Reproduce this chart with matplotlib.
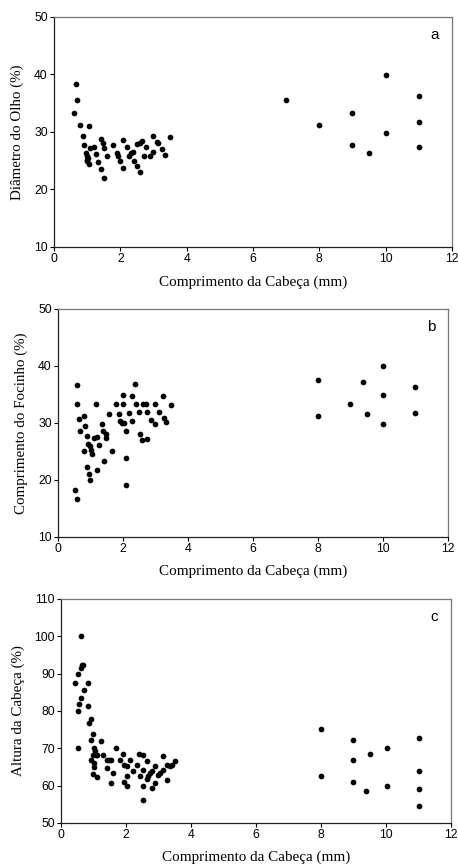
# -*- coding: utf-8 -*-
import numpy as np
import matplotlib.pyplot as plt

# Data (x = comprimento da cabeca, mm)
xa = [0.60, 0.66, 0.70, 0.79, 0.86, 0.91, 0.96, 1.01, 1.00, 1.05, 1.07, 1.09,
      1.03, 0.98, 1.21, 1.27, 1.33, 1.41, 1.43, 1.49, 1.50, 1.51, 1.59, 1.79,
      1.89, 1.92, 1.99, 2.09, 2.09, 2.19, 2.27, 2.33, 2.39, 2.41, 2.50, 2.50,
      2.58, 2.60, 2.64, 2.70, 2.76, 2.88, 3.00, 3.00, 3.10, 3.15, 3.25, 3.34,
      3.49, 6.99, 8.00, 9.00, 9.00, 9.50, 10.00, 10.00, 11.00, 11.00, 11.00]
ya = [33.3, 38.4, 35.6, 31.2, 29.3, 27.7, 26.4, 25.9, 25.1, 24.5, 31.0, 27.2,
      25.5, 24.9, 27.4, 26.2, 24.8, 23.5, 28.8, 28.0, 27.2, 22.0, 25.9, 27.7,
      26.3, 25.9, 25.0, 28.6, 23.8, 27.3, 25.9, 26.3, 26.5, 25.0, 27.9, 24.1,
      28.0, 23.0, 28.5, 25.9, 27.3, 25.9, 29.3, 26.6, 28.3, 28.0, 27.1, 26.0,
      29.2, 35.6, 31.2, 33.3, 27.7, 26.3, 39.9, 29.9, 36.3, 31.8, 27.3]

xb = [0.53, 0.59, 0.59, 0.59, 0.65, 0.69, 0.79, 0.79, 0.84, 0.89, 0.89, 0.93,
      0.94, 0.97, 0.99, 1.02, 1.06, 1.10, 1.18, 1.19, 1.20, 1.25, 1.36, 1.40,
      1.42, 1.49, 1.49, 1.57, 1.66, 1.79, 1.89, 1.92, 1.97, 1.99, 2.00, 2.02,
      2.09, 2.09, 2.09, 2.18, 2.29, 2.29, 2.38, 2.40, 2.49, 2.51, 2.59, 2.62,
      2.70, 2.74, 2.74, 2.86, 2.98, 2.98, 3.11, 3.24, 3.25, 3.33, 3.49,
      8.00, 8.00, 8.98, 9.39, 9.50, 9.99, 9.99, 9.99, 11.00, 11.00]
yb = [18.2, 16.6, 36.6, 33.3, 30.7, 28.6, 31.2, 25.0, 29.4, 27.7, 22.2, 26.4,
      21.1, 26.0, 20.0, 25.2, 24.6, 27.3, 33.3, 21.7, 27.5, 26.2, 29.9, 28.6,
      23.4, 28.0, 27.3, 31.6, 25.1, 33.3, 31.6, 30.3, 30.0, 34.9, 33.4, 30.0,
      28.6, 23.8, 19.1, 31.8, 34.8, 30.4, 36.9, 33.3, 32.0, 28.0, 27.0, 33.4,
      33.3, 31.9, 27.2, 30.6, 33.3, 29.9, 32.0, 34.8, 30.8, 30.1, 33.2,
      37.5, 31.2, 33.3, 37.2, 31.6, 40.0, 34.9, 29.9, 36.4, 31.8]

xc = [0.43, 0.53, 0.53, 0.55, 0.53, 0.62, 0.62, 0.65, 0.68, 0.62, 0.72, 0.82,
      0.82, 0.87, 0.92, 0.91, 0.97, 0.91, 0.97, 0.97, 1.02, 1.02, 1.03, 1.05,
      1.07, 1.10, 1.12, 1.22, 1.30, 1.41, 1.43, 1.47, 1.54, 1.53, 1.59, 1.69,
      1.80, 1.90, 1.94, 1.94, 2.02, 2.02, 2.02, 2.13, 2.23, 2.33, 2.39, 2.43,
      2.53, 2.53, 2.53, 2.53, 2.64, 2.64, 2.69, 2.74, 2.79, 2.79, 2.89, 2.89,
      2.99, 3.05, 3.14, 3.14, 3.25, 3.25, 3.36, 3.41, 3.50,
      8.01, 8.01, 9.00, 9.00, 9.00, 9.40, 9.51, 10.02, 10.02,
      11.03, 11.03, 11.03, 11.03]
yc = [87.5, 89.9, 79.9, 81.8, 70.0, 100.0, 91.6, 92.3, 92.4, 83.5, 85.7, 87.5,
      81.3, 76.7, 77.9, 72.1, 73.8, 66.8, 68.3, 63.1, 70.0, 66.0, 65.1, 69.2,
      68.3, 62.3, 68.3, 71.9, 68.3, 66.8, 64.6, 66.8, 66.8, 60.6, 63.3, 70.0,
      66.8, 68.5, 65.4, 61.1, 65.2, 62.6, 60.0, 66.8, 63.8, 65.4, 68.5, 62.6,
      68.2, 64.2, 60.0, 56.1, 66.5, 61.7, 62.6, 63.3, 63.8, 59.3, 65.3, 60.8,
      62.9, 63.3, 68.0, 64.1, 61.5, 65.6, 65.3, 65.4, 66.7,
      75.1, 62.6, 72.1, 66.8, 61.1, 58.5, 68.5, 70.0, 59.9,
      72.8, 63.8, 59.1, 54.6]

xlabel = "Comprimento da Cabeça (mm)"
ylabels = ["Diâmetro do Olho (%)", "Comprimento do Focinho (%)", "Altura da Cabeça (%)"]
letters = ["a", "b", "c"]
ylims = [(10, 50), (10, 50), (50, 110)]
yticks = [np.arange(10, 51, 10), np.arange(10, 51, 10), np.arange(50, 111, 10)]

# axes boxes in figure fraction (left, bottom, width, height)
boxes = [[0.1179, 0.7145, 0.869, 0.2659],
         [0.1266, 0.3792, 0.8515, 0.2636],
         [0.1332, 0.0486, 0.8515, 0.2590]]
ylab_x = [-0.093, -0.095, -0.11]

fig = plt.figure(figsize=(4.58, 8.65), dpi=100)

for i, (xs, ys) in enumerate([(xa, ya), (xb, yb), (xc, yc)]):
    ax = fig.add_axes(boxes[i])
    ax.scatter(xs, ys, s=17, color="black", linewidths=0, zorder=3)
    ax.set_xlim(0, 12)
    ax.set_ylim(*ylims[i])
    ax.set_xticks(np.arange(0, 13, 2))
    ax.set_yticks(yticks[i])
    ax.tick_params(direction="out", length=3, width=0.8, labelsize=8.8,
                   top=False, right=False, pad=1.5)
    for lab in ax.get_xticklabels() + ax.get_yticklabels():
        lab.set_family("Liberation Sans")
    for sp in ax.spines.values():
        sp.set_linewidth(0.9)
        sp.set_color("#222222")
    ax.spines["right"].set_color("#777777")
    ax.spines["top"].set_color("#777777")
    ax.set_xlabel(xlabel, family="Liberation Serif", fontsize=10.9)
    ax.set_ylabel(ylabels[i], family="Liberation Serif", fontsize=10.8)
    ax.xaxis.set_label_coords(0.5, -0.152)
    ax.xaxis.label.set_va("center")
    ax.yaxis.set_label_coords(ylab_x[i], 0.5)
    ax.yaxis.label.set_va("center")
    ax.text(0.957, 0.92, letters[i], transform=ax.transAxes, ha="center",
            va="center", fontsize=11, family="Liberation Sans")

fig.savefig("out.png", dpi=100)
